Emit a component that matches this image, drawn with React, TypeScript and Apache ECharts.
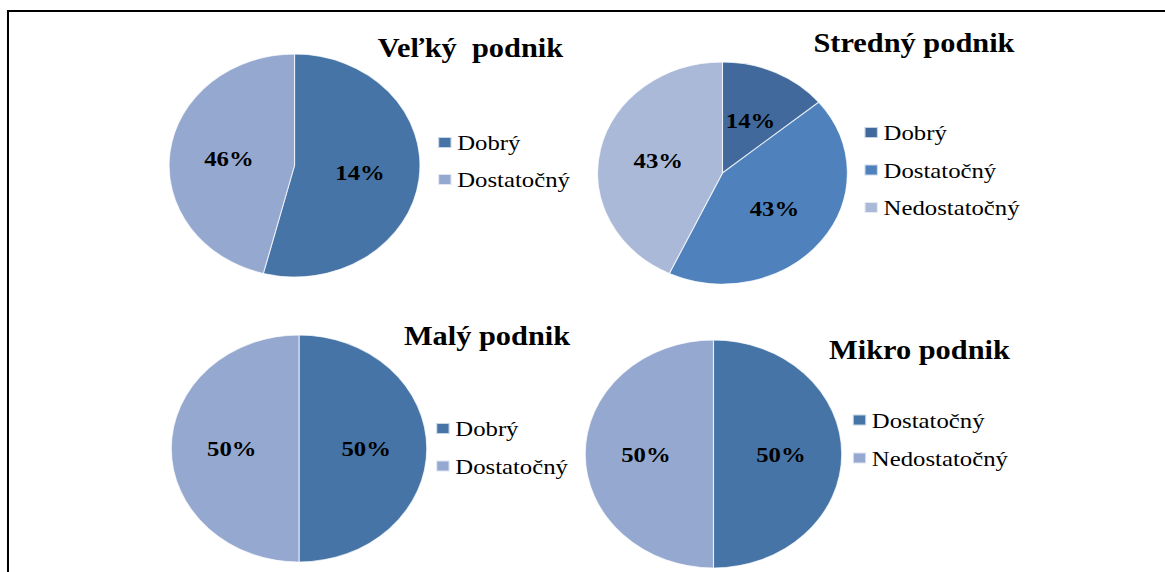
import React, { useEffect, useRef } from "react";
import * as echarts from "echarts";

// ---- data ----
const velkyNames = ["Dobrý", "Dostatočný"];
const velkyValues = [54, 46];
const velkyLabels = ["14%", "46%"];
const velkyColors = ["#4674A7", "#95A8CF"];

const strednyNames = ["Dobrý", "Dostatočný", "Nedostatočný"];
const strednyValues = [14, 43, 43];
const strednyLabels = ["14%", "43%", "43%"];
const strednyColors = ["#42699B", "#4F81BD", "#AAB9D7"];

const malyNames = ["Dobrý", "Dostatočný"];
const malyValues = [50, 50];
const malyLabels = ["50%", "50%"];
const malyColors = ["#4674A7", "#95A8CF"];

const mikroNames = ["Dostatočný", "Nedostatočný"];
const mikroValues = [50, 50];
const mikroLabels = ["50%", "50%"];
const mikroColors = ["#4674A7", "#95A8CF"];

const titles = ["Veľký  podnik", "Stredný podnik", "Malý podnik", "Mikro podnik"];

const SX = 1.125; // horizontal stretch of the reference picture
const W = 1036;
const H = 572;
const FONT = "'Liberation Serif', 'Times New Roman', serif";

const panels = [
  { names: velkyNames, values: velkyValues, labels: velkyLabels, colors: velkyColors,
    center: [261.8, 165.5], r: 111.5, title: [418.2, 48], legend: [388.4, 131.5, 15] },
  { names: strednyNames, values: strednyValues, labels: strednyLabels, colors: strednyColors,
    center: [642.2, 173], r: 111, title: [812.4, 43], legend: [767.4, 121.5, 15.5] },
  { names: malyNames, values: malyValues, labels: malyLabels, colors: malyColors,
    center: [265.8, 448.5], r: 113.5, title: [432.9, 335.5], legend: [386.7, 417.5, 15.5] },
  { names: mikroNames, values: mikroValues, labels: mikroLabels, colors: mikroColors,
    center: [634.2, 454], r: 114, title: [817.3, 350], legend: [757, 409, 16] },
];

export default function App() {
  const ref = useRef<HTMLDivElement>(null);
  useEffect(() => {
    if (!ref.current) return;
    const chart = echarts.init(ref.current, undefined, { renderer: "svg" });
    const series = panels.map((p, i) => ({
      type: "pie",
      name: titles[i],
      center: p.center,
      radius: [0, p.r],
      startAngle: 90,
      clockwise: true,
      avoidLabelOverlap: false,
      emphasis: { disabled: true },
      itemStyle: { borderColor: "rgba(255,255,255,0.7)", borderWidth: 1 },
      label: {
        show: true,
        position: "inside",
        formatter: (q: any) => p.labels[q.dataIndex],
        fontFamily: FONT,
        fontWeight: "bold",
        fontSize: 22,
        color: "#000",
      },
      labelLine: { show: false },
      data: p.names.map((n, j) => ({ name: n, value: p.values[j], itemStyle: { color: p.colors[j] } })),
    }));
    const legends = panels.map((p) => ({
      orient: "vertical",
      left: p.legend[0],
      top: p.legend[1],
      itemGap: p.legend[2],
      padding: 0,
      itemWidth: 12,
      itemHeight: 11,
      icon: "rect",
      selectedMode: false,
      textStyle: { fontFamily: FONT, fontSize: 22, lineHeight: 22, color: "#000" },
      data: p.names.map((n, j) => ({ name: n, icon: "rect", itemStyle: { color: p.colors[j] } })),
    }));
    const titleTexts = panels.map((p, i) => ({
      type: "text",
      x: p.title[0],
      y: p.title[1],
      style: {
        text: titles[i],
        fill: "#000",
        font: `bold 27px ${FONT}`,
        align: "center",
        verticalAlign: "middle",
      },
    }));
    chart.setOption({
      animation: false,
      backgroundColor: "#fff",
      legend: legends,
      series,
      graphic: [
        { type: "line", shape: { x1: 6.2, y1: 11, x2: W, y2: 11 }, style: { stroke: "#000", lineWidth: 2 } },
        { type: "line", shape: { x1: 7.1, y1: 10, x2: 7.1, y2: H }, style: { stroke: "#000", lineWidth: 1.8 } },
        ...titleTexts,
      ],
    });
    return () => chart.dispose();
  }, []);
  return (
    <div style={{ position: "absolute", left: 0, top: 0, width: 1165, height: H, overflow: "hidden", background: "#fff" }}>
      <div
        ref={ref}
        style={{ width: W, height: H, transform: `scaleX(${SX})`, transformOrigin: "0 0" }}
      />
    </div>
  );
}
